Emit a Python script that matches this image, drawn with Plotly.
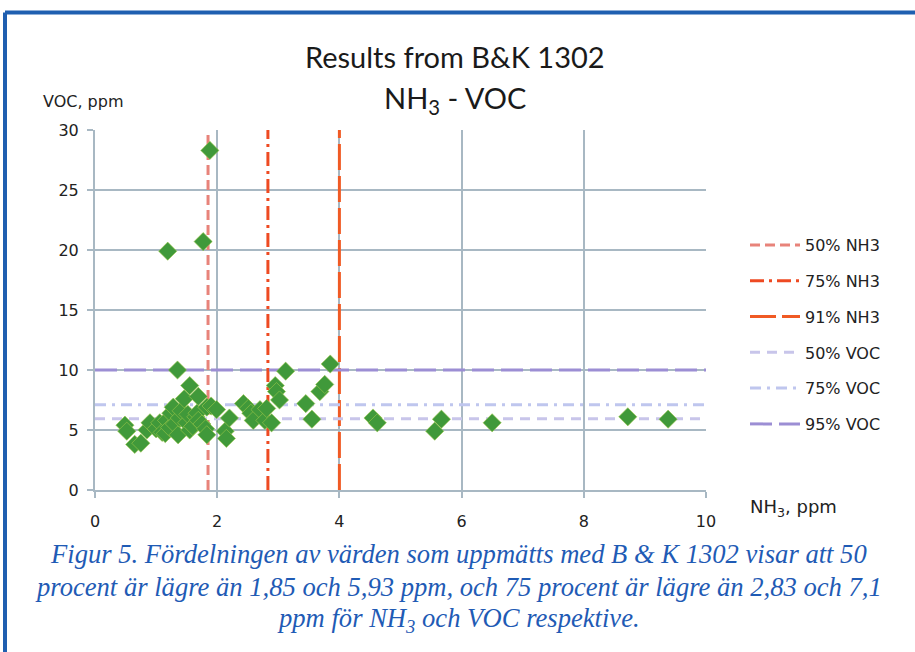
import plotly.graph_objects as go

# ---- data ----
nh3 = [0.49, 0.52, 0.65, 0.75, 0.85, 0.90, 1.00, 1.06, 1.10, 1.15, 1.17, 1.19, 1.22, 1.24,
       1.28, 1.30, 1.35, 1.36, 1.38, 1.41, 1.46, 1.50, 1.52, 1.55, 1.55, 1.60, 1.65, 1.67,
       1.69, 1.69, 1.75, 1.77, 1.81, 1.83, 1.83, 1.88, 1.90, 1.99, 2.13, 2.15, 2.20, 2.43,
       2.51, 2.55, 2.59, 2.70, 2.78, 2.81, 2.89, 2.95, 2.97, 3.02, 3.12, 3.45, 3.55, 3.68,
       3.76, 3.85, 4.55, 4.62, 5.56, 5.67, 6.50, 8.72, 9.38]
voc = [5.4, 4.9, 3.8, 3.9, 5.0, 5.6, 5.1, 5.6, 4.8, 4.7, 5.8, 19.9, 5.2, 6.4,
       6.9, 5.5, 10.0, 4.6, 6.0, 6.6, 7.6, 5.6, 6.3, 8.7, 5.0, 5.3, 6.1, 6.4,
       7.8, 5.8, 5.5, 20.7, 5.1, 4.6, 6.9, 28.3, 7.0, 6.7, 4.9, 4.3, 6.0, 7.2,
       6.8, 6.4, 5.8, 6.7, 5.8, 6.8, 5.6, 8.7, 8.2, 7.5, 9.9, 7.2, 5.9, 8.2,
       8.8, 10.5, 6.0, 5.6, 4.9, 5.9, 5.6, 6.1, 5.9]

nh3_pct_names = ["50% NH3", "75% NH3", "91% NH3"]
nh3_pct_vals = [1.85, 2.83, 4.0]
voc_pct_names = ["50% VOC", "75% VOC", "95% VOC"]
voc_pct_vals = [5.93, 7.1, 10.0]

x_range = [0, 10]
y_range = [0, 30]
x_ticks = [0, 2, 4, 6, 8, 10]
y_ticks = [0, 5, 10, 15, 20, 25, 30]

# ---- styles ----
nh3_styles = [("#E8837A", "10px,5px"), ("#EE4A22", "14px,5px,3px,5px"), ("#F05A24", "26px,6px")]
voc_styles = [("#C8C5EA", "10px,7px"), ("#BFC6EE", "11px,6px,3px,6px"), ("#9C8ED4", "22px,7px")]

fig = go.Figure()

for name, v, (col, dash) in zip(nh3_pct_names, nh3_pct_vals, nh3_styles):
    fig.add_trace(go.Scatter(x=[v, v], y=y_range, mode="lines", name=name,
                             line=dict(color=col, width=3, dash=dash), legendgroup=name))
for name, v, (col, dash) in zip(voc_pct_names, voc_pct_vals, voc_styles):
    fig.add_trace(go.Scatter(x=x_range, y=[v, v], mode="lines", name=name,
                             line=dict(color=col, width=3, dash=dash), legendgroup=name))

fig.add_trace(go.Scatter(x=nh3, y=voc, mode="markers", showlegend=False,
                         marker=dict(symbol="diamond", size=14, color="#40993A",
                                     line=dict(color="#9CC84A", width=0.6))))

grid = "#A8B8C3"
TF = "DejaVu Sans"
fig.update_xaxes(range=x_range, tickvals=x_ticks, showgrid=True, gridcolor=grid, gridwidth=2,
                 showline=True, linecolor=grid, linewidth=2, ticks="outside", ticklen=6,
                 tickcolor=grid, tickwidth=2, zeroline=False, ticklabelstandoff=10,
                 tickfont=dict(family=TF, size=16, color="#222"))
fig.update_yaxes(range=y_range, tickvals=y_ticks, showgrid=True, gridcolor=grid, gridwidth=2,
                 showline=True, linecolor=grid, linewidth=2, ticks="outside", ticklen=6,
                 tickcolor=grid, tickwidth=2, zeroline=False, ticklabelstandoff=5,
                 tickfont=dict(family=TF, size=16, color="#222"))

L, R, T, B = 95, 209, 130, 162
W, H = 915, 652
pw, ph = W - L - R, H - T - B

def px(x):
    return (x - L) / pw

def py(y):
    return (H - B - y) / ph

anns = []
for txt, yy in [("Results from B&K 1302", 56), ("NH<sub>3</sub> - VOC", 99)]:
    anns.append(dict(text=txt, x=px(455), y=py(yy), xref="paper", yref="paper",
                     showarrow=False, xanchor="center", yanchor="middle",
                     font=dict(family="Lato", size=29, color="#1A1A1A")))
anns.append(dict(text="VOC, ppm", x=px(83), y=py(101), xref="paper", yref="paper", showarrow=False,
                 xanchor="center", yanchor="middle", font=dict(family=TF, size=16, color="#222")))
anns.append(dict(text="NH<sub>3</sub>, ppm", x=px(793), y=py(508), xref="paper", yref="paper",
                 showarrow=False, xanchor="center", yanchor="middle",
                 font=dict(family=TF, size=18, color="#222")))
caption = [
    "Figur 5. Fördelningen av värden som uppmätts med B & K 1302 visar att 50",
    "procent är lägre än 1,85 och 5,93 ppm, och 75 procent är lägre än 2,83 och 7,1",
    "ppm för NH<sub>3</sub> och VOC respektive.",
]
for txt, yy in zip(caption, [554, 587, 620]):
    anns.append(dict(text="<i>" + txt + "</i>", x=px(458), y=py(yy), xref="paper", yref="paper",
                     showarrow=False, xanchor="center", yanchor="middle",
                     font=dict(family="Liberation Serif", size=26.6, color="#1F5BB5")))

shapes = [
    dict(type="line", xref="paper", yref="paper", x0=px(5), x1=px(930), y0=py(12.5), y1=py(12.5),
         line=dict(color="#1F5FB0", width=4)),
    dict(type="line", xref="paper", yref="paper", x0=px(5), x1=px(5), y0=py(12.5), y1=py(670),
         line=dict(color="#1F5FB0", width=4)),
]

fig.update_layout(
    width=W, height=H, margin=dict(l=L, r=R, t=T, b=B, autoexpand=False),
    paper_bgcolor="white", plot_bgcolor="white",
    annotations=anns, shapes=shapes,
    legend=dict(x=px(745), y=py(228), xanchor="left", yanchor="top",
                font=dict(family=TF, size=16, color="#222"),
                tracegroupgap=12, itemwidth=50, bgcolor="rgba(0,0,0,0)"),
)

fig.write_html("out.html", config={"displayModeBar": False},
               post_script="document.body.style.margin='0';document.body.style.overflow='hidden';")
